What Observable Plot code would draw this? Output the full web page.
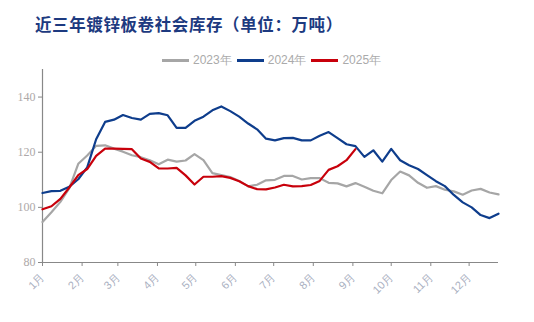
<!DOCTYPE html>
<html><head><meta charset="utf-8">
<script src="https://cdn.jsdelivr.net/npm/d3@7"></script>
<script src="https://cdn.jsdelivr.net/npm/@observablehq/plot@0.6"></script>
<style>
body{margin:0;background:#fff;width:534px;height:322px;overflow:hidden;font-family:"Liberation Sans",Arial,sans-serif}
#title{height:52px;box-sizing:border-box;padding-left:35px;padding-top:13px;font:bold 16.5px "Noto Sans CJK SC",sans-serif;color:#1d3a80;line-height:22px;letter-spacing:0.6px}
#legend{height:16px;display:flex;align-items:center;padding-left:162px;font-size:12px;color:#aaa}
#legend .sw{display:inline-block;width:27px;height:3px;margin-right:4px}
#legend .it{display:flex;align-items:center;margin-right:5px}
#chart svg{display:block}
</style>
</head><body>
<div id="title">近三年镀锌板卷社会库存（单位：万吨）</div>
<div id="legend"></div>
<div id="chart"></div>
<script>
const seriesNames = ["2023年", "2024年", "2025年"];
const seriesColors = ["#a6a6a6", "#0e3d8c", "#c8000b"];
const monthLabels = ["1月","2月","3月","4月","5月","6月","7月","8月","9月","10月","11月","12月"];
const yTicks = [80, 100, 120, 140];

const v2023 = [94.7,98.2,102.0,107.0,115.8,118.8,122.3,122.5,121.3,120.2,118.9,118.2,117.1,115.6,117.3,116.6,117.0,119.3,117.1,112.4,111.7,111.0,109.6,107.6,108.2,109.8,110.0,111.4,111.4,110.1,110.6,110.6,108.9,108.7,107.6,108.8,107.5,106.0,105.1,109.9,113.0,111.6,108.9,107.1,107.7,106.4,105.8,104.6,106.1,106.7,105.4,104.7];
const v2024 = [105.2,105.9,106.0,107.5,110.2,114.5,124.7,131.0,131.8,133.5,132.4,131.8,133.9,134.2,133.4,128.8,128.8,131.4,132.9,135.2,136.6,134.9,132.9,130.4,128.3,124.9,124.3,125.1,125.2,124.3,124.3,126.0,127.3,125.1,122.9,122.2,118.3,120.7,116.6,121.2,117.1,115.3,113.9,111.7,109.5,107.7,104.5,101.8,100.0,97.2,96.1,97.7];
const v2025 = [99.3,100.4,103.1,107.2,111.7,113.9,118.7,121.3,121.3,121.2,121.1,117.7,116.5,114.1,114.1,114.3,111.6,108.3,111.1,111.1,111.3,110.7,109.5,107.7,106.6,106.5,107.2,108.2,107.6,107.7,108.1,109.6,113.6,114.9,117.1,121.1];

const start = new Date(Date.UTC(2023, 0, 1));
const end = d3.utcDay.offset(start, 357);
const monthTicks = d3.utcMonths(start, new Date(Date.UTC(2024, 0, 1)));
const weekDate = i => d3.utcDay.offset(start, 7 * i);

const rows = [];
[v2023, v2024, v2025].forEach((arr, s) => arr.forEach((v, i) => rows.push({series: seriesNames[s], date: weekDate(i), value: v})));

// legend
const lg = document.getElementById("legend");
seriesNames.forEach((n, i) => {
  const it = document.createElement("span"); it.className = "it";
  const sw = document.createElement("span"); sw.className = "sw"; sw.style.background = seriesColors[i];
  it.appendChild(sw); it.appendChild(document.createTextNode(n)); lg.appendChild(it);
});

const chart = Plot.plot({
  width: 534,
  height: 254,
  marginTop: 1,
  marginBottom: 60,
  marginLeft: 42,
  marginRight: 36,
  style: {fontFamily: "Liberation Sans, Arial, sans-serif", background: "#fff"},
  x: {type: "utc", domain: [start, end]},
  y: {domain: [80, 150]},
  color: {domain: seriesNames, range: seriesColors},
  marks: [
    Plot.axisY({ticks: yTicks, tickSize: 4, tickPadding: 3, stroke: "#888", fill: "#ada8a8", fontSize: 12, fontFamily: "Liberation Serif, serif", label: null}),
    Plot.axisX({ticks: monthTicks, tickFormat: d => monthLabels[d.getUTCMonth()], tickRotate: -45, tickSize: 4, tickPadding: 9, stroke: "#888", fill: "#a9b0bf", fontSize: 11, label: null}),
    Plot.ruleX([start], {stroke: "#888", strokeWidth: 1.2}),
    Plot.ruleY([80], {stroke: "#888", strokeWidth: 1.2}),
    Plot.line(rows, {x: "date", y: "value", z: "series", stroke: "series", strokeWidth: 2.2})
  ]
});
document.getElementById("chart").appendChild(chart);
</script>
</body></html>
